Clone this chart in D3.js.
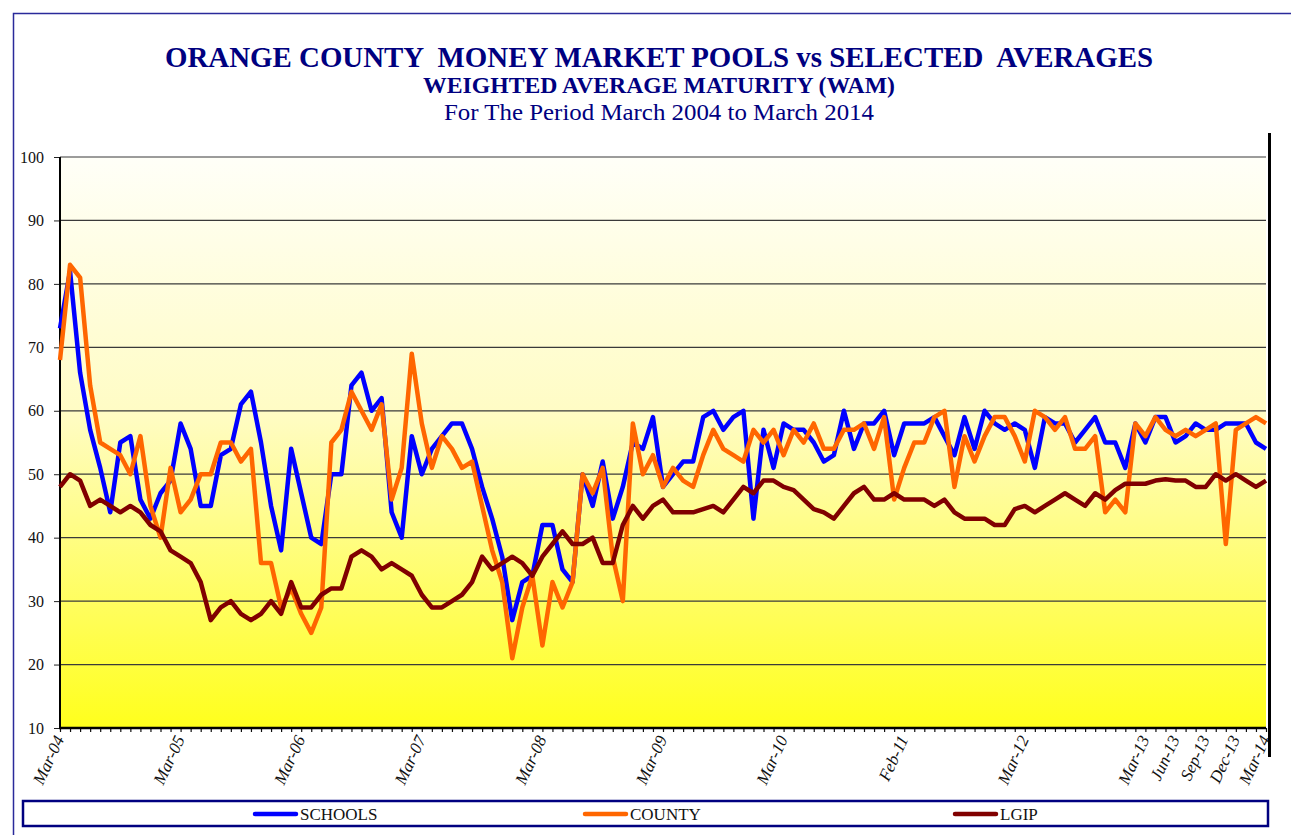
<!DOCTYPE html>
<html>
<head>
<meta charset="utf-8">
<script src="https://cdn.jsdelivr.net/npm/d3@7"></script>
<style>
  body { margin: 0; background: #fff; }
  text { font-family: "Liberation Serif", "Times New Roman", serif; }
</style>
</head>
<body>
<script>
// monthly WAM, Mar-04 .. Mar-14 (121 points)
var schools = [73,82,66,57,51,44,55,56,46,43,47,49,58,54,45,45,53,54,61,63,
  55,45,38,54,47,40,39,50,50,64,66,60,62,44,40,56,50,54,56,58,
  58,54,48,43,37,27,33,34,42,42,35,33,50,45,52,43,48,55,54,59,
  48,50,52,52,59,60,57,59,60,43,57,51,58,57,57,55,52,53,60,54,
  58,58,60,53,58,58,58,59,56,53,59,54,60,58,57,58,57,51,59,58,
  58,55,57,59,55,55,51,58,55,59,59,55,56,58,57,57,58,58,58,55,54];
var county = [68,83,81,64,55,54,53,50,56,45,40,51,44,46,50,50,55,55,52,54,
  36,36,29,32,28,25,29,55,57,63,60,57,61,46,51,69,58,51,56,54,
  51,52,45,38,33,21,29,34,23,33,29,33,50,47,51,37,30,58,50,53,
  48,51,49,48,53,57,54,53,52,57,55,57,53,57,55,58,54,54,57,57,
  58,54,59,46,51,55,55,59,60,48,56,52,56,59,59,56,52,60,59,57,
  59,54,54,56,44,46,44,58,56,59,57,56,57,56,57,58,39,57,58,59,58];
var lgip = [48,50,49,45,46,45,44,45,44,42,41,38,37,36,33,27,29,30,28,27,
  28,30,28,33,29,29,31,32,32,37,38,37,35,36,35,34,31,29,29,30,
  31,33,37,35,36,37,36,34,37,39,41,39,39,40,36,36,42,45,43,45,
  46,44,44,44,44.5,45,44,46,48,47,49,49,48,47.5,46,44.5,44,43,45,47,
  48,46,46,47,46,46,46,45,46,44,43,43,43,42,42,44.5,45,44,45,46,
  47,46,45,47,46,47.5,48.5,48.5,48.5,49,49.2,49,49,48,48,50,49,50,49,48,49];

var tickIdx = [0,12,24,36,48,60,72,84,96,108,111,114,117,120];
var tickLabels = ["Mar-04","Mar-05","Mar-06","Mar-07","Mar-08","Mar-09","Mar-10",
  "Feb-11","Mar-12","Mar-13","Jun-13","Sep-13","Dec-13","Mar-14"];
var yTicks = [10,20,30,40,50,60,70,80,90,100];

var seriesNames = ["SCHOOLS","COUNTY","LGIP"];
var seriesColors = ["#0000ff","#ff6600","#800000"];
var seriesData = [schools, county, lgip];

var W = 1291, H = 835;
var navy = "#000080";
var plotL = 60, plotR = 1266, plotT = 157, plotB = 728;

var svg = d3.select("body").append("svg").attr("width", W).attr("height", H);

// outer frame (right/bottom edges run off the page)
svg.append("rect").attr("x", 13.5).attr("y", 13.5).attr("width", W).attr("height", H)
  .attr("fill", "#fff").attr("stroke", "#2a2a9a").attr("stroke-width", 1.5);

// titles
var titles = [
  { t: "ORANGE COUNTY  MONEY MARKET POOLS vs SELECTED  AVERAGES", y: 67, s: 29, w: "bold", len: 988 },
  { t: "WEIGHTED AVERAGE MATURITY (WAM)", y: 93, s: 22.5, w: "bold", len: 472 },
  { t: "For The Period March 2004 to March 2014", y: 120, s: 23, w: "normal", len: 430 }
];
svg.selectAll("text.title").data(titles).enter().append("text")
  .attr("class", "title")
  .attr("x", 659).attr("y", function(d) { return d.y; })
  .attr("text-anchor", "middle")
  .attr("fill", navy)
  .attr("font-size", function(d) { return d.s; })
  .attr("font-weight", function(d) { return d.w; })
  .attr("textLength", function(d) { return d.len; })
  .attr("lengthAdjust", "spacingAndGlyphs")
  .style("white-space", "pre")
  .text(function(d) { return d.t; });

var x = d3.scalePoint().domain(d3.range(schools.length)).range([plotL, plotR]);
var y = d3.scaleLinear().domain([10, 100]).range([plotB, plotT]);

// plot background
var grad = svg.append("defs").append("linearGradient").attr("id", "bg")
  .attr("x1", 0).attr("y1", 0).attr("x2", 0).attr("y2", 1);
grad.append("stop").attr("offset", "0%").attr("stop-color", "#fffff8");
grad.append("stop").attr("offset", "45%").attr("stop-color", "#fffcc4");
grad.append("stop").attr("offset", "100%").attr("stop-color", "#ffff1c");
svg.append("rect").attr("x", plotL).attr("y", plotT)
  .attr("width", plotR - plotL).attr("height", plotB - plotT).attr("fill", "url(#bg)");

// gridlines + y labels
var yAxis = svg.append("g").attr("transform", "translate(" + plotL + ",0)")
  .call(d3.axisLeft(y).tickValues(yTicks).tickSize(6).tickPadding(10));
yAxis.select(".domain").remove();
yAxis.selectAll("text").attr("font-size", 16).attr("fill", "#111")
  .attr("font-family", "Liberation Serif, serif")
  .style("font-family", "'Liberation Serif', serif");
yAxis.selectAll("line").attr("stroke", "#222");
svg.append("g").selectAll("line").data(yTicks).enter().append("line")
  .attr("x1", plotL).attr("x2", plotR)
  .attr("y1", function(d) { return y(d); }).attr("y2", function(d) { return y(d); })
  .attr("stroke", "#3a3a3a").attr("stroke-width", 1.2);

// x axis: a minor tick for every month
var xAxis = svg.append("g").attr("transform", "translate(0," + plotB + ")")
  .call(d3.axisBottom(x).tickSize(4).tickFormat(""));
xAxis.select(".domain").remove();
xAxis.selectAll("line").attr("stroke", "#111").attr("stroke-width", 1.2);

svg.selectAll("text.xlab").data(tickIdx).enter().append("text")
  .attr("class", "xlab")
  .attr("transform", function(d) { return "translate(" + (x(d) + 4.5) + "," + (plotB + 11) + ") rotate(-65)"; })
  .attr("text-anchor", "end")
  .attr("font-size", 17)
  .attr("font-style", "italic")
  .attr("fill", "#111")
  .text(function(d, i) { return tickLabels[i]; });

// axis lines
svg.append("line").attr("x1", plotL).attr("x2", plotL).attr("y1", plotT).attr("y2", plotB)
  .attr("stroke", "#000").attr("stroke-width", 2);
svg.append("line").attr("x1", plotL - 1).attr("x2", plotR).attr("y1", plotB).attr("y2", plotB)
  .attr("stroke", "#000").attr("stroke-width", 2.5);
svg.append("line").attr("x1", 1269.5).attr("x2", 1269.5).attr("y1", 133).attr("y2", 757)
  .attr("stroke", "#000").attr("stroke-width", 3);

// series
var line = d3.line().x(function(d, i) { return x(i); }).y(function(d) { return y(d); });
svg.append("g").selectAll("path").data(seriesData).enter().append("path")
  .attr("d", line)
  .attr("fill", "none")
  .attr("stroke", function(d, i) { return seriesColors[i]; })
  .attr("stroke-width", 4.5)
  .attr("stroke-linejoin", "round");

// legend
svg.append("rect").attr("x", 23).attr("y", 801).attr("width", 1245).attr("height", 25)
  .attr("fill", "#fff").attr("stroke", navy).attr("stroke-width", 2.5);
var legX = [255, 585, 955];
var leg = svg.selectAll("g.leg").data(seriesNames).enter().append("g")
  .attr("class", "leg")
  .attr("transform", function(d, i) { return "translate(" + legX[i] + ",814)"; });
leg.append("line").attr("x1", 0).attr("x2", 41)
  .attr("stroke", function(d, i) { return seriesColors[i]; })
  .attr("stroke-width", 4.5).attr("stroke-linecap", "round");
leg.append("text").attr("x", 45).attr("y", 6).attr("font-size", 17).attr("fill", "#111")
  .text(function(d) { return d; });
</script>
</body>
</html>
